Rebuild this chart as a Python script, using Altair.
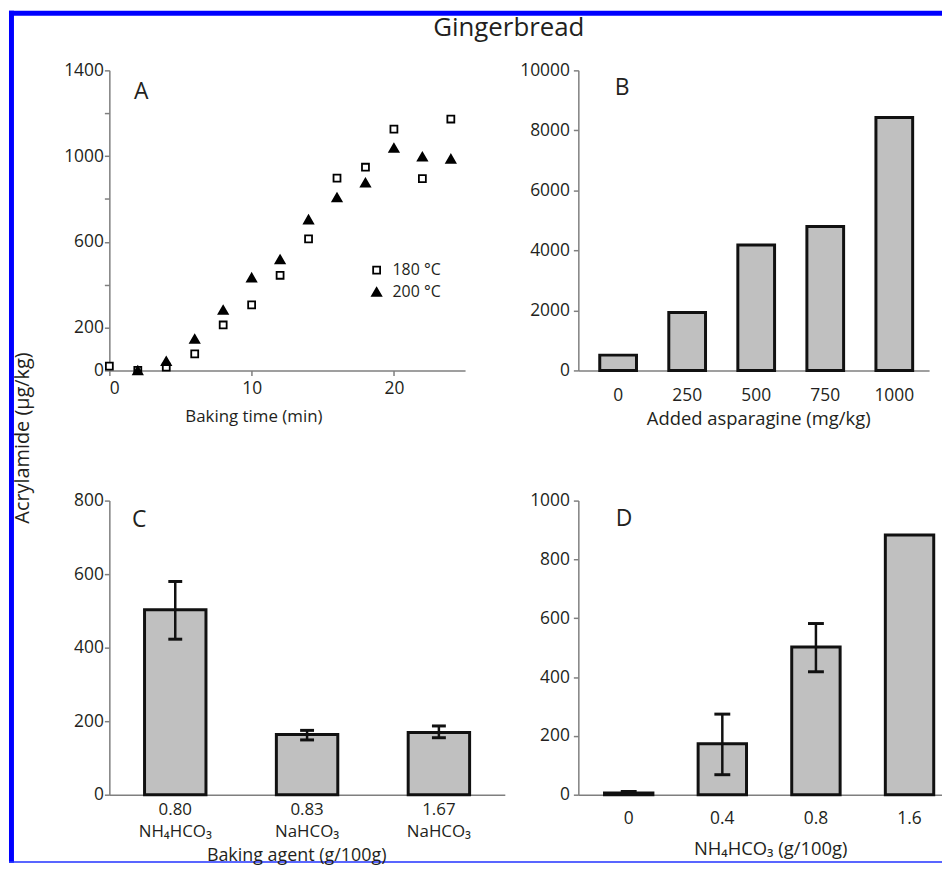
import altair as alt
import pandas as pd

FONT = "Open Sans"
TXT = "#231f20"
AX = "#7f7f7f"
BAR_FILL = "#c0c0c0"
BAR_STROKE = "#111111"
BLUE = "#0000ff"

chart_title = "Gingerbread"
y_title = "Acrylamide (µg/kg)"
panel_labels = ["A", "B", "C", "D"]

# Panel A: baking time vs acrylamide
a_time_180 = [0, 2, 4, 6, 8, 10, 12, 14, 16, 18, 20, 22, 24]
a_acr_180 = [20, 0, 15, 77, 212, 306, 444, 614, 897, 948, 1126, 895, 1173]
a_time_200 = [2, 4, 6, 8, 10, 12, 14, 16, 18, 20, 22, 24]
a_acr_200 = [0, 43, 147, 282, 433, 518, 704, 807, 876, 1038, 997, 987]
series_names = ["180 °C", "200 °C"]
a_xticks = [0, 10, 20]
a_yticks = [0, 200, 400, 600, 800, 1000, 1200, 1400]
a_ylabels = [0, 200, 600, 1000, 1400]

# Panel B: added asparagine
b_asn = ["0", "250", "500", "750", "1000"]
b_acr = [510, 1930, 4180, 4800, 8430]
b_yticks = [0, 2000, 4000, 6000, 8000, 10000]

# Panel C: baking agent
c_amount = ["0.80", "0.83", "1.67"]
c_agent = ["NH₄HCO₃", "NaHCO₃", "NaHCO₃"]
c_acr = [503, 164, 169]
c_lo = [423, 149, 155]
c_hi = [580, 175, 187]
c_yticks = [0, 200, 400, 600, 800]

# Panel D: NH4HCO3 dose
d_dose = ["0", "0.4", "0.8", "1.6"]
d_acr = [6, 173, 502, 883]
d_lo = [1, 68, 418, None]
d_hi = [11, 274, 582, None]
d_yticks = [0, 200, 400, 600, 800, 1000]

TICK_FS = 17.5


def y_axis(values, label_padding, label_expr=None):
    kw = dict(values=values, title=None, grid=False, format="d", domainColor=AX, domainWidth=1.5,
              tickColor=AX, tickWidth=1.5, tickSize=5, labelPadding=label_padding,
              labelFont=FONT, labelFontSize=TICK_FS, labelColor=TXT)
    if label_expr:
        kw["labelExpr"] = label_expr
    return alt.Axis(**kw)


def x_axis_band(title, label_padding, title_x, title_y, label_fs=TICK_FS, title_fs=18.5):
    return alt.Axis(title=title, grid=False, ticks=False, labelAngle=0, domainColor=AX, domainWidth=1.5,
                    labelPadding=label_padding, labelFont=FONT, labelFontSize=label_fs, labelColor=TXT,
                    titleFont=FONT, titleFontSize=title_fs, titleFontWeight="normal", titleColor=TXT,
                    titleX=title_x, titleY=title_y, titleBaseline="middle")


def panel_label(letter, x, y):
    return alt.Chart(pd.DataFrame({"p": [letter]})).mark_text(
        font=FONT, fontSize=23, color=TXT, baseline="middle", align="center"
    ).encode(text="p:N", x=alt.value(x), y=alt.value(y))


# ---------- Panel A ----------
dfA = pd.DataFrame({
    "t": a_time_180 + a_time_200,
    "v": a_acr_180 + a_acr_200,
    "s": [series_names[0]] * len(a_time_180) + [series_names[1]] * len(a_time_200),
})
leg = dict(orient="none", legendX=261, legendY=193, title=None, padding=0,
           labelFont=FONT, labelFontSize=16, labelColor=TXT, labelOffset=8, rowPadding=6,
           symbolStrokeWidth=1.8)
ptsA = alt.Chart(dfA).mark_point(filled=True, strokeWidth=1.8, opacity=1).encode(
    x=alt.X("t:Q", scale=alt.Scale(domain=[0, 25], nice=False),
            axis=alt.Axis(values=a_xticks, title="Baking time (min)", grid=False, domainColor=AX,
                          domainWidth=1.5, tickColor=AX, tickWidth=1.5, tickSize=5, labelPadding=4,
                          labelFont=FONT, labelFontSize=TICK_FS, labelColor=TXT,
                          titleFont=FONT, titleFontSize=17, titleFontWeight="normal",
                          titleColor=TXT, titleX=145, titleY=46, titleBaseline="middle")),
    y=alt.Y("v:Q", scale=alt.Scale(domain=[0, 1400], nice=False),
            axis=y_axis(a_yticks, 1, "indexof(%s, datum.value) >= 0 ? datum.label : ''" % str(a_ylabels))),
    shape=alt.Shape("s:N", scale=alt.Scale(domain=series_names, range=["square", "triangle-up"]),
                    legend=alt.Legend(**leg)),
    fill=alt.Fill("s:N", scale=alt.Scale(domain=series_names, range=["white", "black"]),
                  legend=alt.Legend(**leg)),
    stroke=alt.Stroke("s:N", scale=alt.Scale(domain=series_names, range=["black", "black"]),
                      legend=alt.Legend(**leg)),
    size=alt.Size("s:N", scale=alt.Scale(domain=series_names, range=[49, 85]),
                  legend=alt.Legend(**leg)),
)

one = pd.DataFrame({"k": [0]})
# decorative blue frame (page coords: A plot origin sits at 110, 70)
frame_top = alt.Chart(one).mark_rect(color=BLUE).encode(
    x=alt.value(-101), x2=alt.value(838), y=alt.value(-60), y2=alt.value(-55))
frame_left = alt.Chart(one).mark_rect(color=BLUE).encode(
    x=alt.value(-101), x2=alt.value(-96), y=alt.value(-60), y2=alt.value(797.5))
frame_bottom = alt.Chart(one).mark_rect(color="#2233ff").encode(
    x=alt.value(-101), x2=alt.value(838), y=alt.value(796), y2=alt.value(797.5))

title_txt = alt.Chart(pd.DataFrame({"t": [chart_title]})).mark_text(
    font=FONT, fontSize=26, color=TXT, baseline="middle", align="center"
).encode(text="t:N", x=alt.value(402), y=alt.value(-43))
ytitle_txt = alt.Chart(pd.DataFrame({"t": [y_title]})).mark_text(
    font=FONT, fontSize=20, color=TXT, baseline="middle", align="center", angle=270
).encode(text="t:N", x=alt.value(-86.5), y=alt.value(370))

chartA = alt.layer(ptsA, panel_label(panel_labels[0], 32, 22), title_txt, ytitle_txt,
                   frame_top, frame_left, frame_bottom).properties(width=358, height=302)

# ---------- Panel B ----------
dfB = pd.DataFrame({"asn": b_asn, "acr": b_acr})
barsB = alt.Chart(dfB).mark_bar(fill=BAR_FILL, stroke=BAR_STROKE, strokeWidth=3).encode(
    x=alt.X("asn:N", sort=b_asn,
            scale=alt.Scale(paddingInner=0.468, paddingOuter=0.274, align=0.566),
            axis=x_axis_band("Added asparagine (mg/kg)", 16, 181, 48)),
    y=alt.Y("acr:Q", scale=alt.Scale(domain=[0, 10000], nice=False), axis=y_axis(b_yticks, 4)),
)
chartB = alt.layer(barsB, panel_label(panel_labels[1], 44, 18)).properties(width=353, height=302)

# ---------- Panel C ----------
C_H = 296
dfC = pd.DataFrame({"amount": c_amount, "agent": c_agent, "acr": c_acr, "lo": c_lo, "hi": c_hi})
xCs = alt.X("amount:N", sort=c_amount,
            scale=alt.Scale(paddingInner=0.534, paddingOuter=0.267, align=0.5),
            axis=x_axis_band("Baking agent (g/100g)", 7, 188, 61, 17, 18))
yC = alt.Y("acr:Q", scale=alt.Scale(domain=[0, 800], nice=False), axis=y_axis(c_yticks, 1))
xC = alt.X("amount:N", sort=c_amount)
barsC = alt.Chart(dfC).mark_bar(fill=BAR_FILL, stroke=BAR_STROKE, strokeWidth=3).encode(x=xCs, y=yC)
errC = alt.Chart(dfC).mark_rule(color=BAR_STROKE, strokeWidth=2.5).encode(
    x=xC, y=alt.Y("lo:Q"), y2="hi:Q")
capC1 = alt.Chart(dfC).mark_tick(color=BAR_STROKE, thickness=3, size=14, opacity=1).encode(
    x=xC, y=alt.Y("lo:Q"))
capC2 = alt.Chart(dfC).mark_tick(color=BAR_STROKE, thickness=3, size=14, opacity=1).encode(
    x=xC, y=alt.Y("hi:Q"))
agentC = alt.Chart(dfC).mark_text(font=FONT, fontSize=17, color=TXT, baseline="middle").encode(
    x=xC, y=alt.value(C_H + 38), text="agent:N")
chartC = alt.layer(barsC, errC, capC1, capC2, agentC, panel_label(panel_labels[2], 30, 20)).properties(
    width=398, height=C_H)

# ---------- Panel D ----------
dfD = pd.DataFrame({"dose": d_dose, "acr": d_acr, "lo": d_lo, "hi": d_hi})
xD = alt.X("dose:N", sort=d_dose,
           scale=alt.Scale(paddingInner=0.483, paddingOuter=0.184, align=0.76),
           axis=x_axis_band("NH₄HCO₃ (g/100g)", 15, 193, 54))
yD = alt.Y("acr:Q", scale=alt.Scale(domain=[0, 1000], nice=False), axis=y_axis(d_yticks, 4))
barsD = alt.Chart(dfD).mark_bar(fill=BAR_FILL, stroke=BAR_STROKE, strokeWidth=3).encode(x=xD, y=yD)
dfDe = dfD.dropna()
errD = alt.Chart(dfDe).mark_rule(color=BAR_STROKE, strokeWidth=2.5).encode(
    x=alt.X("dose:N", sort=d_dose), y=alt.Y("lo:Q"), y2="hi:Q")
capD1 = alt.Chart(dfDe).mark_tick(color=BAR_STROKE, thickness=3, size=16, opacity=1).encode(
    x=alt.X("dose:N", sort=d_dose), y=alt.Y("lo:Q"))
capD2 = alt.Chart(dfDe).mark_tick(color=BAR_STROKE, thickness=3, size=16, opacity=1).encode(
    x=alt.X("dose:N", sort=d_dose), y=alt.Y("hi:Q"))
chartD = alt.layer(barsD, errD, capD1, capD2, panel_label(panel_labels[3], 46, 19)).properties(
    width=366, height=296)

chart = alt.concat(
    chartA, chartB, chartC, chartD,
    columns=2,
    spacing={"row": 131, "column": 74},
    bounds="flush",
    padding={"left": 1, "top": 0, "right": 0, "bottom": 0},
    autosize=alt.AutoSizeParams(type="pad"),
    background="white",
).configure_view(stroke=None)

chart.save("out.html", embed_options={"renderer": "svg", "actions": False})
